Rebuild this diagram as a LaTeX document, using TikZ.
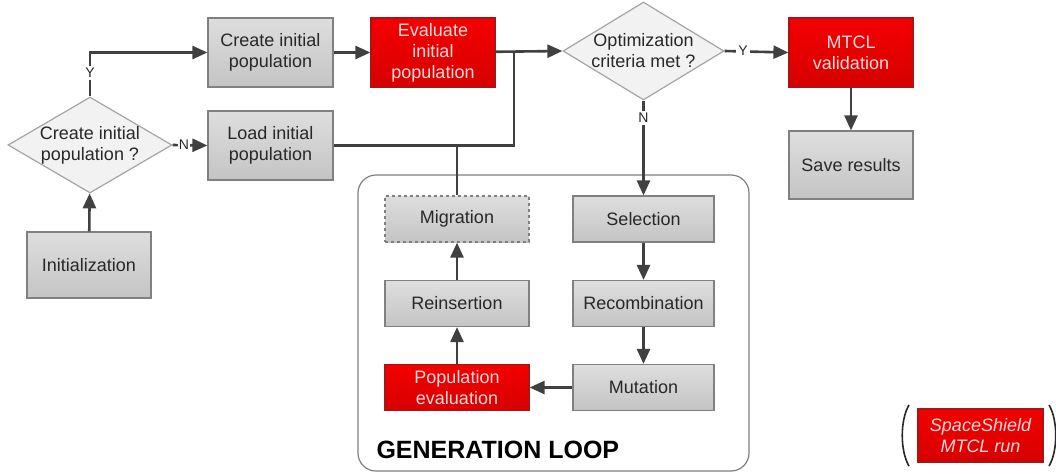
\documentclass[tikz,border=0pt]{standalone}
\usepackage{fontspec}
\setmainfont{Liberation Sans}
\usetikzlibrary{arrows.meta,shapes.geometric}
\definecolor{boxtop}{RGB}{222,222,222}
\definecolor{boxbot}{RGB}{196,196,196}
\definecolor{boxline}{RGB}{128,128,128}
\definecolor{redtop}{RGB}{244,0,0}
\definecolor{redbot}{RGB}{214,0,0}
\definecolor{redline}{RGB}{170,20,20}
\definecolor{redtext}{RGB}{250,218,218}
\definecolor{txt}{RGB}{40,40,40}
\definecolor{wire}{RGB}{64,64,64}
\definecolor{diafill}{RGB}{242,242,242}
\definecolor{dialine}{RGB}{165,165,165}
\tikzset{
  boxfont/.style={font=\fontsize{18}{21}\selectfont},
  gbox/.style={boxfont, rectangle, draw=boxline, line width=1.2pt, top color=boxtop, bottom color=boxbot,
    text=txt, align=center, inner sep=0pt},
  rbox/.style={boxfont, rectangle, draw=redline, line width=1.2pt, top color=redtop, bottom color=redbot,
    text=redtext, align=center, inner sep=0pt},
  dia/.style={diamond, draw=dialine, line width=1.2pt, fill=diafill, inner sep=0pt},
  diatext/.style={boxfont, text=txt, align=center},
  ln/.style={draw=wire, line width=2.6pt},
  arr/.style={ln, -{Triangle[length=15pt,width=13pt]}},
  lab/.style={font=\fontsize{14}{16}\selectfont, text=txt, fill=white, inner sep=2pt},
  loopbox/.style={draw=boxline, line width=1.2pt, fill=white, rounded corners=18pt},
  paren/.style={draw=txt, line width=1.6pt}
}
\begin{document}
\begin{tikzpicture}[x=1pt,y=-1pt]
\useasboundingbox (0,0) rectangle (1056,475);

% generation loop frame
\draw[loopbox] (358,175) rectangle (749,471);
\node[font=\bfseries\fontsize{25}{28}\selectfont, text=black, anchor=base west] (looplabel) at (373,458) {GENERATION LOOP};

% initial phase
\node[gbox, minimum width=124pt, minimum height=66pt] (init) at (89,265) {Initialization};
\node[dia, minimum width=164pt, minimum height=96pt] (d1) at (90,145) {};
\node[diatext] (d1t) at (d1) {Create initial\\population ?};
\node[gbox, minimum width=125pt, minimum height=69pt] (create) at (270.5,52.5) {Create initial\\population};
\node[gbox, minimum width=125pt, minimum height=69pt] (load) at (270.5,145.5) {Load initial\\population};
\node[rbox, minimum width=124pt, minimum height=69pt] (evalinit) at (433,52.5) {Evaluate\\initial\\population};

% optimization check and end
\node[dia, minimum width=161pt, minimum height=98pt] (d2) at (643.5,51) {};
\node[diatext] (d2t) at (d2) {Optimization\\criteria met ?};
\node[rbox, minimum width=124pt, minimum height=69pt] (mtcl) at (851,52.5) {MTCL\\validation};
\node[gbox, minimum width=124pt, minimum height=68pt] (save) at (851,165) {Save results};

% generation loop steps
\node[gbox, dashed, minimum width=144pt, minimum height=46pt] (mig) at (457,219) {Migration};
\node[gbox, minimum width=141pt, minimum height=46pt] (sel) at (643.5,219) {Selection};
\node[gbox, minimum width=144pt, minimum height=46pt] (reins) at (457,303.5) {Reinsertion};
\node[gbox, minimum width=141pt, minimum height=46pt] (recomb) at (643.5,303.5) {Recombination};
\node[rbox, minimum width=144pt, minimum height=46pt] (popeval) at (457,387.5) {Population\\evaluation};
\node[gbox, minimum width=141pt, minimum height=46pt] (mut) at (643.5,387.5) {Mutation};

% legend
\node[rbox, font=\itshape\fontsize{18}{21}\selectfont, minimum width=125pt, minimum height=53pt] (legend) at (980.5,435.5) {SpaceShield\\MTCL run};
\draw[paren] (909,405) .. controls (900,420) and (900,451) .. (909,466);
\draw[paren] (1049,405) .. controls (1058,420) and (1058,451) .. (1049,466);

% connectors
\draw[arr] (init) -- (d1);
\coordinate (ycorner) at (d1.north |- create.west);
\draw[arr] (d1.north) -- (ycorner) -- (create.west);
\node[lab] at (90,73) {Y};
\draw[arr] (d1.east) -- (load.west);
\node[lab, inner sep=1pt] at (184,145) {N};
\draw[arr] (create) -- (evalinit);
\draw[arr] (evalinit) -- (d2.west);
\coordinate (junction) at (514,52.5);
\draw[ln] (load.east) -| (junction);
\draw[ln] (mig.north) -- (mig.north |- load.east);
\draw[arr] (d2.east) -- (mtcl.west);
\node[lab] at (743,51) {Y};
\draw[arr] (mtcl) -- (save);
\draw[arr] (d2.south) -- (sel.north);
\node[lab] at (643.5,118) {N};
\draw[arr] (sel) -- (recomb);
\draw[arr] (recomb) -- (mut);
\draw[arr] (mut) -- (popeval);
\draw[arr] (popeval) -- (reins);
\draw[arr] (reins) -- (mig);
\end{tikzpicture}
\end{document}
